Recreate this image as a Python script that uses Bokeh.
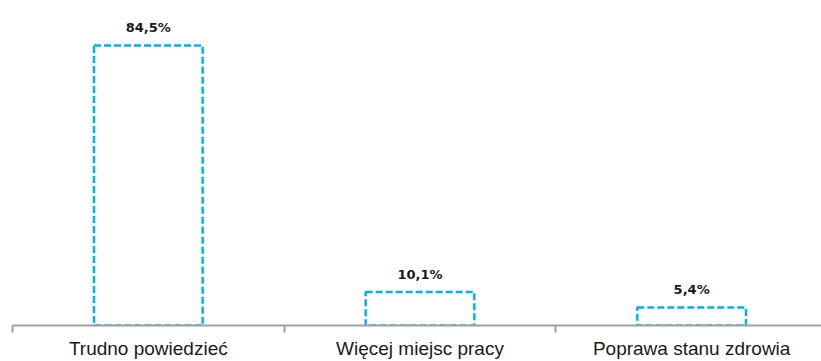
from bokeh.plotting import figure
from bokeh.models import ColumnDataSource, FixedTicker, Range1d
from bokeh.core.properties import value
from bokeh.embed import file_html
from bokeh.resources import INLINE

categories = ["Trudno powiedzieć", "Więcej miejsc pracy", "Poprawa stanu zdrowia"]
values = [84.5, 10.1, 5.4]

xs = [i + 0.5 for i in range(len(categories))]
labels = [f"{v:.1f}".replace(".", ",") + "%" for v in values]
src = ColumnDataSource(dict(x=xs, top=values, label=labels))

p = figure(width=821, height=361, output_backend="svg", toolbar_location=None,
           x_range=Range1d(0, 2.978), y_range=Range1d(0, 98.05),
           y_axis_location=None, min_border_left=12, min_border_right=0,
           min_border_top=0, min_border_bottom=35)
p.grid.visible = False
p.outline_line_color = None
p.background_fill_color = "white"

p.vbar(x="x", top="top", bottom=0, width=0.4, source=src,
       fill_color=None, line_color="#00B0F0", line_width=2.5, line_dash="7 3")

p.text(x="x", y="top", text="label", source=src, text_align="center",
       text_baseline="middle", y_offset=-18, text_font=value("DejaVu Sans"),
       text_font_style="bold", text_font_size="13px", text_color="#1a1a1a")

ax = p.xaxis[0]
ax.ticker = FixedTicker(ticks=xs, minor_ticks=list(range(len(categories) + 1)))
ax.major_label_overrides = {x: c for x, c in zip(xs, categories)}
ax.major_tick_line_color = None
ax.major_tick_out = 0
ax.major_tick_in = 0
ax.minor_tick_out = 7
ax.minor_tick_in = 0
ax.minor_tick_line_color = "#A0A0A0"
ax.minor_tick_line_width = 2
ax.axis_line_color = "#A0A0A0"
ax.axis_line_width = 2
ax.major_label_standoff = 5
ax.major_label_text_font = "Liberation Sans"
ax.major_label_text_font_size = "19px"
ax.major_label_text_color = "#1a1a1a"

open("out.html", "w").write(file_html(p, INLINE))
